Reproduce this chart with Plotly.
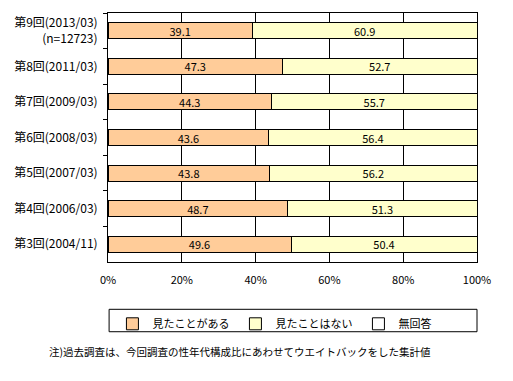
import plotly.graph_objects as go

categories = ["第9回(2013/03)<br>(n=12723)", "第8回(2011/03)", "第7回(2009/03)",
              "第6回(2008/03)", "第5回(2007/03)", "第4回(2006/03)", "第3回(2004/11)"]
seen = [39.1, 47.3, 44.3, 43.6, 43.8, 48.7, 49.6]
not_seen = [60.9, 52.7, 55.7, 56.4, 56.2, 51.3, 50.4]
no_answer = [0, 0, 0, 0, 0, 0, 0]
series_names = ["見たことがある", "見たことはない", "無回答"]
colors = ["#FFCC99", "#FFFFCC", "#FFFFFF"]
x_ticks = [0, 20, 40, 60, 80, 100]
x_ticklabels = ["0%", "20%", "40%", "60%", "80%", "100%"]
note = "注)過去調査は、今回調査の性年代構成比にあわせてウエイトバックをした集計値"

FONT = "Noto Sans CJK JP"
fig = go.Figure()
for name, vals, col, show in zip(series_names, [seen, not_seen, no_answer], colors, [True, True, False]):
    fig.add_trace(go.Bar(
        y=categories, x=vals, name=name, orientation="h",
        marker=dict(color=col, line=dict(color="black", width=1)),
        text=[f"{v:.1f}" for v in vals] if show else None,
        textposition="inside", insidetextanchor="middle",
        textfont=dict(color="black", size=11, family=FONT),
        hoverinfo="skip",
    ))

fig.update_layout(
    width=513, height=381,
    barmode="stack", bargap=0.55,
    paper_bgcolor="white", plot_bgcolor="white",
    margin=dict(l=108, r=36, t=13, b=119, autoexpand=False),
    font=dict(family=FONT, size=11, color="black"),
    uniformtext=dict(mode="show", minsize=11),
    legend=dict(
        orientation="h", x=0.012, xanchor="left",
        y=-0.19, yanchor="top",
        borderwidth=0, bgcolor="rgba(0,0,0,0)",
        font=dict(size=11, family=FONT), entrywidth=78, traceorder="normal",
        itemwidth=30,
    ),
    showlegend=True,
)
# legend frame
fig.add_shape(type="rect", xref="paper", yref="paper", x0=0.003, x1=1.0,
              y0=-0.19, y1=-0.28, line=dict(color="black", width=1),
              fillcolor="rgba(0,0,0,0)", layer="below")
fig.update_xaxes(
    range=[0, 100], tickvals=x_ticks, ticktext=x_ticklabels,
    showgrid=True, gridcolor="black", gridwidth=1,
    showline=True, linecolor="black", linewidth=1, mirror=True,
    ticks="", zeroline=False, fixedrange=True, automargin=False,
    tickfont=dict(size=11, family=FONT), ticklabelstandoff=8,
)
fig.update_yaxes(
    autorange="reversed", type="category", automargin=False,
    showline=True, linecolor="black", linewidth=1, mirror=True,
    ticks="outside", ticklen=4, tickcolor="black", tickson="boundaries",
    showgrid=False, tickfont=dict(size=12, family=FONT), ticklabelstandoff=7,
)
fig.add_annotation(
    text=note, xref="paper", yref="paper", x=-0.165, y=-0.36,
    xanchor="left", yanchor="middle", showarrow=False,
    font=dict(size=10.5, family=FONT),
)
fig.write_html("out.html", config={"displayModeBar": False},
               post_script="document.body.style.margin='0';")
